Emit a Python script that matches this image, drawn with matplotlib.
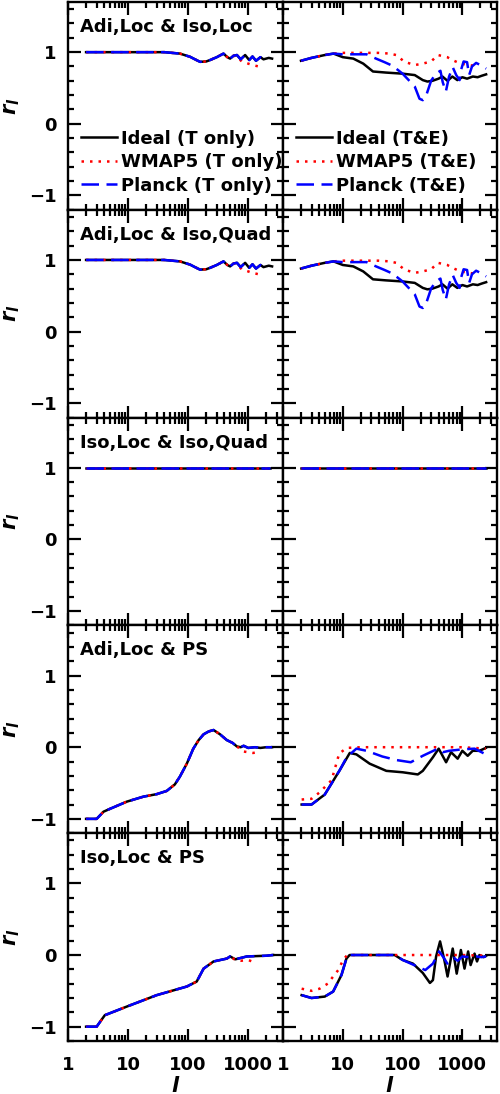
import numpy as np
import matplotlib
matplotlib.use('Agg')
from matplotlib import pyplot as plt
from matplotlib.ticker import FixedLocator, LogLocator, MultipleLocator, NullFormatter

plt.rcParams['font.family'] = 'DejaVu Sans'
plt.rcParams['font.weight'] = 'bold'
plt.rcParams['font.size'] = 13

titles = ['Adi,Loc & Iso,Loc', 'Adi,Loc & Iso,Quad', 'Iso,Loc & Iso,Quad',
          'Adi,Loc & PS', 'Iso,Loc & PS']

# --- Adi,Loc & Iso,Loc / Adi,Loc & Iso,Quad, T only ---
l_adiiso_t = [2, 3, 5, 10, 20, 40, 73, 108, 130, 158, 200, 232, 300, 388, 450, 500,
              570, 650, 750, 890, 1040, 1180, 1350, 1600, 1800, 2200, 2500]
r_adiiso_t = [1.0, 1.0, 1.0, 1.0, 1.0, 1.0, 0.98, 0.935, 0.90, 0.865, 0.87, 0.89, 0.93,
              0.98, 0.93, 0.91, 0.95, 0.96, 0.90, 0.96, 0.89, 0.94, 0.88, 0.93, 0.90,
              0.92, 0.91]
l_adiiso_t_w = [2, 3, 5, 10, 20, 40, 73, 108, 130, 158, 200, 232, 300, 388, 450, 500,
                570, 650, 780, 1000, 1180, 1500]
r_adiiso_t_w = [1.0, 1.0, 1.0, 1.0, 1.0, 1.0, 0.98, 0.935, 0.90, 0.865, 0.87, 0.89, 0.93,
                0.98, 0.93, 0.91, 0.95, 0.94, 0.87, 0.84, 0.82, 0.80]
l_adiiso_t_p = l_adiiso_t[:-2]
r_adiiso_t_p = r_adiiso_t[:-2]

# --- same, T&E ---
l_adiiso_te = [2, 3, 5, 7, 10, 15, 22, 32, 53, 100, 160, 218, 260, 316, 400, 464, 565,
               680, 825, 1000, 1200, 1500, 1800, 2100, 2500]
r_adiiso_te = [0.88, 0.92, 0.96, 0.98, 0.93, 0.91, 0.84, 0.73, 0.715, 0.70, 0.68, 0.61,
               0.59, 0.60, 0.63, 0.66, 0.60, 0.66, 0.61, 0.65, 0.63, 0.66, 0.65, 0.67, 0.69]
l_adiiso_te_w = [2, 3, 5, 7, 10, 20, 40, 61, 78, 108, 160, 218, 300, 390, 560, 680, 936,
                 1300, 1850]
r_adiiso_te_w = [0.88, 0.92, 0.96, 0.98, 0.99, 0.99, 0.99, 0.98, 0.96, 0.865, 0.82, 0.84,
                 0.87, 0.96, 0.93, 0.89, 0.84, 0.82, 0.80]
l_adiiso_te_p = [2, 3, 5, 7, 10, 15, 25, 36, 50, 68, 100, 130, 160, 192, 218, 245, 300,
                 360, 430, 470, 530, 600, 690, 790, 900, 950, 1050, 1200, 1300, 1450,
                 1700, 2000, 2500]
r_adiiso_te_p = [0.88, 0.92, 0.96, 0.98, 0.97, 0.97, 0.97, 0.91, 0.86, 0.81, 0.70, 0.60,
                 0.52, 0.35, 0.33, 0.38, 0.60, 0.70, 0.74, 0.58, 0.45, 0.66, 0.79, 0.68,
                 0.61, 0.75, 0.87, 0.86, 0.68, 0.80, 0.85, 0.82, 0.77]

# --- Iso,Loc & Iso,Quad ---
l_isoiso_t = [2, 2300]
r_isoiso_t = [1.0, 1.0]
l_isoiso_te = [2, 2500]
r_isoiso_te = [1.0, 1.0]

# --- Adi,Loc & PS ---
l_adips_t = [2, 3, 3.9, 5, 9.5, 18, 30, 44, 60, 73, 95, 122, 150, 181, 220, 265, 340,
             440, 550, 650, 750, 840, 1000, 1300, 1600, 2000, 2500]
r_adips_t = [-1.0, -1.0, -0.90, -0.86, -0.76, -0.69, -0.655, -0.61, -0.52, -0.41, -0.23,
             -0.02, 0.10, 0.18, 0.22, 0.24, 0.18, 0.10, 0.06, 0.01, 0.0, 0.02, -0.01, 0.0,
             -0.01, 0.0, 0.0]
l_adips_t_w = [2, 3, 3.9, 5, 9.5, 18, 30, 44, 60, 73, 95, 122, 150, 181, 220, 265, 340,
               440, 550, 650, 750, 840, 1000, 1200, 1500]
r_adips_t_w = [-1.0, -1.0, -0.90, -0.86, -0.76, -0.69, -0.655, -0.61, -0.52, -0.41, -0.23,
               -0.02, 0.10, 0.18, 0.22, 0.24, 0.18, 0.10, 0.06, 0.01, -0.03, -0.06, -0.07,
               -0.08, -0.07]

l_adips_te = [2.05, 3.0, 5.0, 8.9, 13.1, 16.9, 28.2, 53.5, 101, 180, 218, 322, 402, 535,
              647, 835, 1000, 1230, 1490, 1930, 2470]
r_adips_te = [-0.80, -0.80, -0.66, -0.32, -0.08, -0.10, -0.23, -0.33, -0.35, -0.38, -0.33,
              -0.14, -0.02, -0.21, -0.07, -0.16, -0.05, -0.12, -0.05, -0.05, -0.01]
l_adips_te_w = [2.05, 3.0, 4.1, 6.5, 8.7, 11.6, 20, 100, 1000, 2470]
r_adips_te_w = [-0.73, -0.72, -0.63, -0.46, -0.09, -0.01, 0.0, 0.0, 0.0, -0.02]
l_adips_te_p = [2.05, 3.0, 5.0, 8.9, 11.6, 16.9, 25, 46, 80, 137, 218, 390, 470, 600,
                1000, 1600, 2470]
r_adips_te_p = [-0.80, -0.80, -0.66, -0.32, -0.14, -0.02, -0.05, -0.13, -0.18, -0.21,
                -0.12, -0.02, -0.07, -0.05, -0.03, -0.02, -0.10]

# --- Iso,Loc & PS ---
l_isops_t = [2, 3, 4.1, 9.5, 30, 95, 139, 181, 265, 440, 500, 610, 950, 2000, 2600]
r_isops_t = [-1.0, -1.0, -0.84, -0.72, -0.56, -0.44, -0.37, -0.19, -0.09, -0.05, -0.02,
             -0.06, -0.02, -0.01, 0.0]
l_isops_t_w = [2, 3, 4.1, 9.5, 30, 95, 139, 181, 265, 440, 500, 590, 760, 1000, 1350]
r_isops_t_w = [-1.0, -1.0, -0.84, -0.72, -0.56, -0.44, -0.37, -0.19, -0.09, -0.05, -0.02,
               -0.06, -0.08, -0.07, -0.11]

l_isops_te = [2.05, 3.0, 5.0, 6.9, 9.5, 11.5, 13.0, 73.6, 101, 149, 218, 287, 322, 364,
              424, 500, 566, 690, 805, 945, 1087, 1250, 1375, 1600, 1760, 1930, 2280, 2500]
r_isops_te = [-0.56, -0.60, -0.58, -0.51, -0.28, -0.05, 0.0, 0.0, -0.07, -0.12, -0.25,
              -0.39, -0.35, -0.02, 0.19, -0.07, -0.30, 0.09, -0.26, 0.07, -0.19, 0.05,
              -0.14, 0.02, -0.09, 0.0, -0.03, -0.01]
l_isops_te_w = [2.05, 3.0, 4.1, 5.6, 6.9, 8.4, 10.1, 11.9, 100, 1000, 2500]
r_isops_te_w = [-0.47, -0.50, -0.47, -0.40, -0.30, -0.21, -0.07, 0.0, 0.0, 0.0, -0.01]
l_isops_te_p = [2.05, 3.0, 5.0, 6.9, 9.5, 11.5, 13.0, 73.6, 101, 240, 322, 410, 500, 560,
                650, 720, 835, 1000, 1300, 1700, 2100, 2500]
r_isops_te_p = [-0.56, -0.60, -0.58, -0.51, -0.28, -0.05, 0.0, 0.0, -0.07, -0.21, -0.12,
                0.05, -0.05, -0.12, -0.08, -0.04, -0.08, -0.02, -0.03, -0.02, -0.03, -0.02]

left_data = [
    (l_adiiso_t, r_adiiso_t, l_adiiso_t_w, r_adiiso_t_w, l_adiiso_t_p, r_adiiso_t_p),
    (l_adiiso_t, r_adiiso_t, l_adiiso_t_w, r_adiiso_t_w, l_adiiso_t_p, r_adiiso_t_p),
    (l_isoiso_t, r_isoiso_t, l_isoiso_t, r_isoiso_t, l_isoiso_t, r_isoiso_t),
    (l_adips_t, r_adips_t, l_adips_t_w, r_adips_t_w, l_adips_t, r_adips_t),
    (l_isops_t, r_isops_t, l_isops_t_w, r_isops_t_w, l_isops_t, r_isops_t),
]
right_data = [
    (l_adiiso_te, r_adiiso_te, l_adiiso_te_w, r_adiiso_te_w, l_adiiso_te_p, r_adiiso_te_p),
    (l_adiiso_te, r_adiiso_te, l_adiiso_te_w, r_adiiso_te_w, l_adiiso_te_p, r_adiiso_te_p),
    (l_isoiso_te, r_isoiso_te, l_isoiso_te, r_isoiso_te, l_isoiso_te, r_isoiso_te),
    (l_adips_te, r_adips_te, l_adips_te_w, r_adips_te_w, l_adips_te_p, r_adips_te_p),
    (l_isops_te, r_isops_te, l_isops_te_w, r_isops_te_w, l_isops_te_p, r_isops_te_p),
]


def draw(ax, d, suffix, legend):
    lw = 1.8
    ax.plot(d[0], d[1], color='black', lw=lw, label='Ideal (%s)' % suffix)
    ax.plot(d[2], d[3], color='red', lw=lw, dashes=(1.0, 2.4), label='WMAP5 (%s)' % suffix)
    ax.plot(d[4], d[5], color='blue', lw=lw, dashes=(7, 3), label='Planck (%s)' % suffix)
    if legend:
        ax.legend(loc='upper left', bbox_to_anchor=(0.06, 0.385), frameon=False,
                  borderpad=0, borderaxespad=0, handlelength=2.0, handletextpad=0.2,
                  labelspacing=0.3, fontsize=13)


def style(ax, bottom, left):
    ax.set_xscale('log')
    ax.set_xlim(1, 3800)
    ax.set_ylim(-1.2, 1.7)
    ax.xaxis.set_major_locator(FixedLocator([1, 10, 100, 1000]))
    ax.xaxis.set_minor_locator(LogLocator(base=10, subs=range(2, 10), numticks=20))
    ax.xaxis.set_minor_formatter(NullFormatter())
    ax.yaxis.set_major_locator(FixedLocator([-1, 0, 1]))
    ax.yaxis.set_minor_locator(MultipleLocator(0.2))
    ax.tick_params(which='both', direction='in', top=True, right=True, width=1.6,
                   labelbottom=bottom, labelleft=left)
    ax.tick_params(which='major', length=9)
    ax.tick_params(which='minor', length=4.5)
    ax.tick_params(axis='y', pad=8)
    ax.tick_params(axis='x', pad=11)
    for s in ax.spines.values():
        s.set_linewidth(1.7)
    if bottom:
        ax.set_xticklabels(['1', '10', '100', '1000'])
        ax.set_xlabel('$l$', fontsize=15, labelpad=1)
    if left:
        ax.set_yticklabels(['\u22121', '0', '1'])
        ax.set_ylabel('$r_l$', fontsize=15)
        ax.yaxis.set_label_coords(-0.215, 0.5)


fig = plt.figure(figsize=(5, 10.94), dpi=100)
top = 1 - 2 / 1094.
bot = 1 - 1041 / 1094.
h = (top - bot) / 5
for i in range(5):
    y0 = top - (i + 1) * h
    axl = fig.add_axes([68 / 500., y0, 215 / 500., h])
    axr = fig.add_axes([283 / 500., y0, 214 / 500., h])
    draw(axl, left_data[i], 'T only', i == 0)
    draw(axr, right_data[i], 'T&E', i == 0)
    style(axl, i == 4, True)
    style(axr, i == 4, False)
    axl.text(0.056, 0.88, titles[i], transform=axl.transAxes, va='center', ha='left')

fig.savefig('out.png', dpi=100)
